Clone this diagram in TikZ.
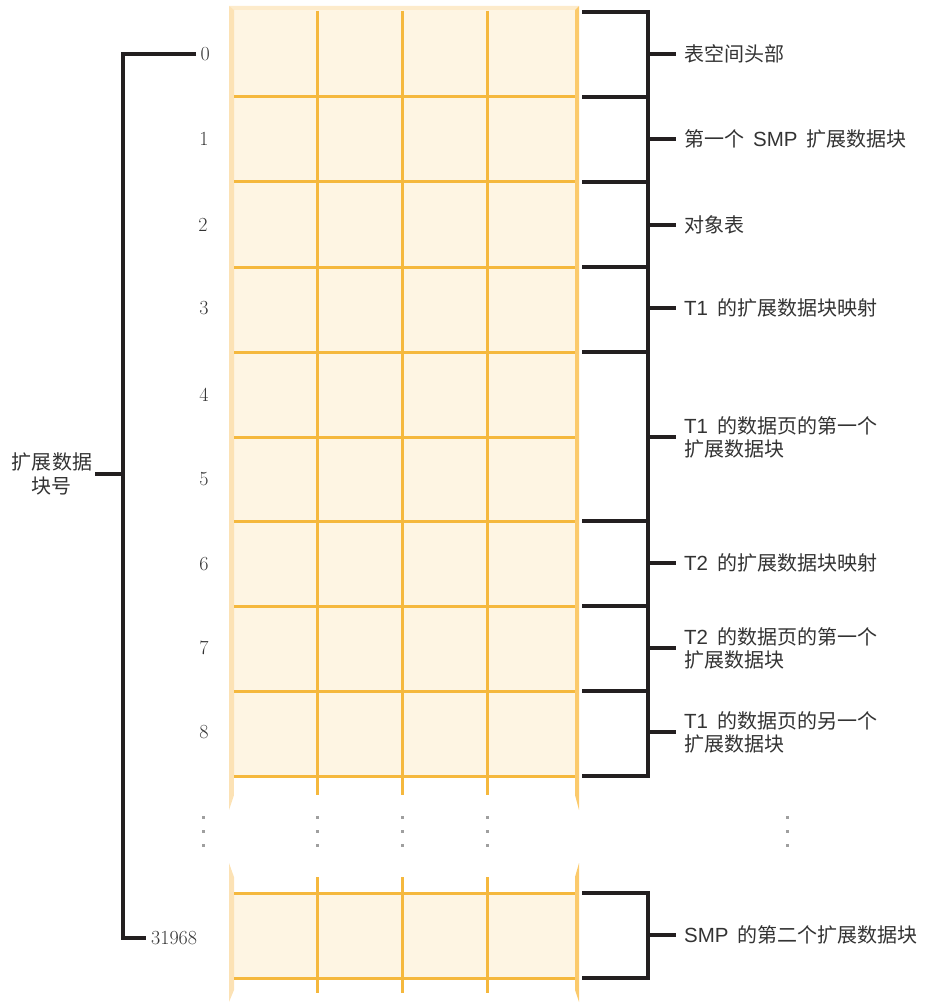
\documentclass[tikz,border=0pt]{standalone}
\usepackage{fontspec}
\newfontfamily\cjk{Noto Sans CJK SC}
\newfontfamily\lat{Liberation Sans}
\definecolor{cream}{HTML}{FEF5E3}
\definecolor{gridc}{HTML}{F5B83D}
\definecolor{lband}{HTML}{FCE2B5}
\definecolor{tband}{HTML}{FDEBCB}
\definecolor{rband}{HTML}{FBCA6C}
\definecolor{txt}{HTML}{333333}
\definecolor{brkc}{HTML}{231F20}
\newcommand{\latw}[1]{{\lat\fontsize{20.5}{23}\selectfont #1}\hspace{0.45em}}
\begin{document}
\begin{tikzpicture}[x=1pt,y=-1pt,
  gridline/.style={gridc,line width=3pt},
  brk/.style={brkc,line width=3.5pt},
  num/.style={font=\fontsize{20}{22}\selectfont,text=txt,inner sep=0pt},
  lbl/.style={font=\cjk\fontsize{20}{23}\selectfont,text=txt,anchor=west,align=left,inner sep=0pt},
  dotm/.style={fill=gray!75,minimum size=3pt,inner sep=0pt,draw=none}]
\useasboundingbox (0,0) rectangle (926,1003);

% ---------- upper block ----------
\fill[cream] (229,6) rectangle (579,776);
\fill[tband] (229,6) -- (579,6) -- (575,10) -- (234,10) -- cycle;
\fill[lband] (229,6) -- (234,10) -- (234,795) -- (229,810) -- cycle;
\fill[rband] (579,6) -- (575,10) -- (575,795) -- (579,810) -- cycle;
\fill[white] (234,777.5) rectangle (575,810);
\foreach \y in {97,182,267,352,437,521,606,691,776}
  \draw[gridline] (234,\y) -- (575,\y);
\foreach \x in {317,402,487}
  \draw[gridline] (\x,11) -- (\x,795);

% ---------- lower block ----------
\fill[cream] (234,893) rectangle (575,978);
\fill[lband] (229,863) -- (234,877) -- (234,990) -- (229,1002) -- cycle;
\fill[rband] (579,863) -- (575,877) -- (575,990) -- (579,1002) -- cycle;
\foreach \y in {893,978}
  \draw[gridline] (234,\y) -- (575,\y);
\foreach \x in {317,402,487}
  \draw[gridline] (\x,877) -- (\x,993);

% ---------- dots ----------
\foreach \x in {203,317,402,487,787}
  \foreach \y in {817,831,845}
    \node[dotm] at (\x,\y) {};

% ---------- numbers ----------
\node[num,anchor=west] (n0) at (200.5,54) {0};
\node[num] (n1) at (204,139) {1};
\node[num] (n2) at (203,225) {2};
\node[num] (n3) at (204,308) {3};
\node[num] (n4) at (204,395) {4};
\node[num] (n5) at (204,479) {5};
\node[num] (n6) at (204,564) {6};
\node[num] (n7) at (204,648) {7};
\node[num] (n8) at (204,732) {8};
\node[num,anchor=west] (nlast) at (151,938) {31968};

% ---------- left bracket ----------
\coordinate (lt) at (123,54);
\coordinate (lb) at (123,938);
\coordinate (lm) at (123,474);
\node[font=\cjk\fontsize{20}{24}\selectfont,text=txt,align=center,inner sep=0pt] (lname) at (52,474) {扩展数据\\块号};
\draw[brk] ([xshift=-4.5pt]n0.west) -- (lt) -- (lb) -- ([xshift=-5pt]nlast.west);
\draw[brk] ([xshift=3pt]lname.east) -- (lm);

% ---------- right labels ----------
\node[lbl] (r0) at (684,54) {表空间头部};
\node[lbl] (r1) at (684,139) {第一个\hspace{0.45em}\latw{SMP}扩展数据块};
\node[lbl] (r2) at (684,225) {对象表};
\node[lbl] (r3) at (684,308) {\latw{T1}的扩展数据块映射};
\node[lbl] (r4) at (684,437) {\latw{T1}的数据页的第一个\\扩展数据块};
\node[lbl] (r5) at (684,563) {\latw{T2}的扩展数据块映射};
\node[lbl] (r6) at (684,648) {\latw{T2}的数据页的第一个\\扩展数据块};
\node[lbl] (r7) at (684,732) {\latw{T1}的数据页的另一个\\扩展数据块};
\node[lbl] (r8) at (684,935) {\latw{SMP}的第二个扩展数据块};

% ---------- right brackets ----------
\draw[brk] (582,12) -- (648,12) -- (648,776) -- (582,776);
\foreach \y in {97,182,267,352,521,606,691}
  \draw[brk] (582,\y) -- (648,\y);
\draw[brk] (582,893) -- (648,893) -- (648,978) -- (582,978);
\foreach \n/\y in {r0/54,r1/139,r2/225,r3/308,r4/437,r5/563,r6/648,r7/732,r8/935}
  \draw[brk] (648,\y) -- ([xshift=-8pt]\n.west);
\end{tikzpicture}
\end{document}
